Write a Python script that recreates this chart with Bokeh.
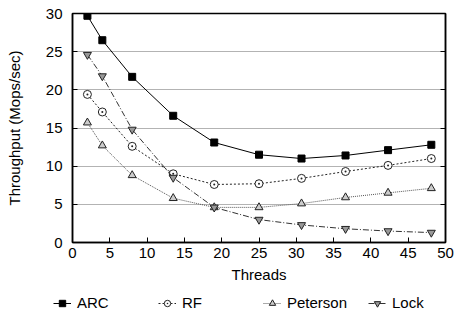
from bokeh.plotting import figure
from bokeh.layouts import column
from bokeh.models import Range1d, LinearAxis, Legend, LegendItem, FixedTicker
from bokeh.embed import file_html
from bokeh.resources import INLINE

threads = [2, 4, 8, 13.5, 19, 25, 30.7, 36.6, 42.3, 48.1]
arc = [29.7, 26.5, 21.7, 16.6, 13.1, 11.5, 11.0, 11.4, 12.1, 12.8]
rf = [19.4, 17.1, 12.6, 9.0, 7.6, 7.7, 8.4, 9.3, 10.1, 11.0]
peterson = [15.7, 12.7, 8.8, 5.8, 4.6, 4.6, 5.1, 5.9, 6.5, 7.1]
lock = [24.6, 21.8, 14.8, 8.5, 4.6, 3.0, 2.3, 1.8, 1.5, 1.3]
series_names = ["ARC", "RF", "Peterson", "Lock"]
x_ticks = [0, 5, 10, 15, 20, 25, 30, 35, 40, 45, 50]
y_ticks = [0, 5, 10, 15, 20, 25, 30]

FONT = "Liberation Sans"
FS = "15px"

styles = [
    dict(line=dict(line_color="black", line_width=1),
         marker=dict(marker="square", size=7, fill_color="black", line_color="black")),
    dict(line=dict(line_color="#222222", line_width=1, line_dash="2 2"),
         marker=dict(marker="circle_dot", size=8, fill_color="white", line_color="#222222", line_width=1)),
    dict(line=dict(line_color="#555555", line_width=1, line_dash="1 1"),
         marker=dict(marker="triangle", size=8, fill_color="#cccccc", line_color="#222222", line_width=1)),
    dict(line=dict(line_color="#333333", line_width=1, line_dash="6 2 1 2"),
         marker=dict(marker="inverted_triangle", size=8, fill_color="#999999", line_color="#222222", line_width=1)),
]
all_series = [arc, rf, peterson, lock]

p = figure(width=455, height=292, output_backend="svg", toolbar_location=None,
           x_range=Range1d(0, 50), y_range=Range1d(0, 30),
           min_border_left=72, min_border_right=10, min_border_top=13, min_border_bottom=50)
p.background_fill_color = "white"
p.border_fill_color = "white"
p.outline_line_color = "black"
p.outline_line_width = 1.5

p.xgrid.grid_line_color = None
p.ygrid.grid_line_color = "#666666"
p.ygrid.grid_line_dash = "1 1"
p.ygrid.grid_line_width = 1
p.ygrid.ticker = FixedTicker(ticks=y_ticks)

for ax in [p.xaxis[0], p.yaxis[0]]:
    ax.major_label_text_font = FONT
    ax.major_label_text_font_size = FS
    ax.major_label_text_color = "black"
    ax.axis_label_text_font = FONT
    ax.axis_label_text_font_size = FS
    ax.axis_label_text_font_style = "normal"
    ax.axis_label_text_color = "black"
    ax.axis_line_color = "black"
    ax.axis_line_width = 1.5
    ax.major_tick_in = 5
    ax.major_tick_out = 0
    ax.minor_tick_line_color = None
    ax.major_tick_line_color = "black"

p.xaxis[0].ticker = FixedTicker(ticks=x_ticks)
p.yaxis[0].ticker = FixedTicker(ticks=y_ticks)
p.xaxis[0].axis_label = "Threads"
p.yaxis[0].axis_label = "Throughput (Mops/sec)"
p.xaxis[0].major_label_standoff = 5
p.xaxis[0].axis_label_standoff = 5
p.yaxis[0].major_label_standoff = 10
p.yaxis[0].axis_label_standoff = 20

right = LinearAxis(ticker=FixedTicker(ticks=y_ticks), major_tick_in=5, major_tick_out=0,
                   minor_tick_line_color=None, major_label_overrides={t: "" for t in y_ticks},
                   major_label_standoff=0, axis_line_color="black", axis_line_width=1.5)
p.add_layout(right, "right")

for ys, st in zip(all_series, styles):
    p.line(threads, ys, **st["line"])
    p.scatter(threads, ys, **st["marker"])

# legend strip below the chart (its own ranges keep the series out of view)
leg = figure(width=455, height=22, output_backend="svg", toolbar_location=None,
             x_range=Range1d(0, 1), y_range=Range1d(-1, 0), x_axis_type=None, y_axis_type=None,
             min_border=0)
leg.grid.visible = False
leg.outline_line_color = None
leg.background_fill_color = "white"
leg.border_fill_color = "white"

items = []
for name, ys, st in zip(series_names, all_series, styles):
    lr = leg.line(threads, ys, **st["line"])
    mk = dict(st["marker"])
    mk["size"] = mk["size"] - 2
    mr = leg.scatter(threads, ys, **mk)
    items.append(LegendItem(label=name, renderers=[lr, mr]))

legend = Legend(items=items, orientation="horizontal", location=(53, 3),
                glyph_width=18, glyph_height=16, label_height=16, label_width=70,
                label_standoff=6, spacing=11, padding=0, margin=0,
                border_line_color=None, background_fill_alpha=0,
                label_text_font=FONT, label_text_font_size=FS, label_text_color="black")
leg.add_layout(legend, "center")

layout = column(p, column(leg, spacing=0), spacing=0)
open("out.html", "w").write(file_html(layout, INLINE))
